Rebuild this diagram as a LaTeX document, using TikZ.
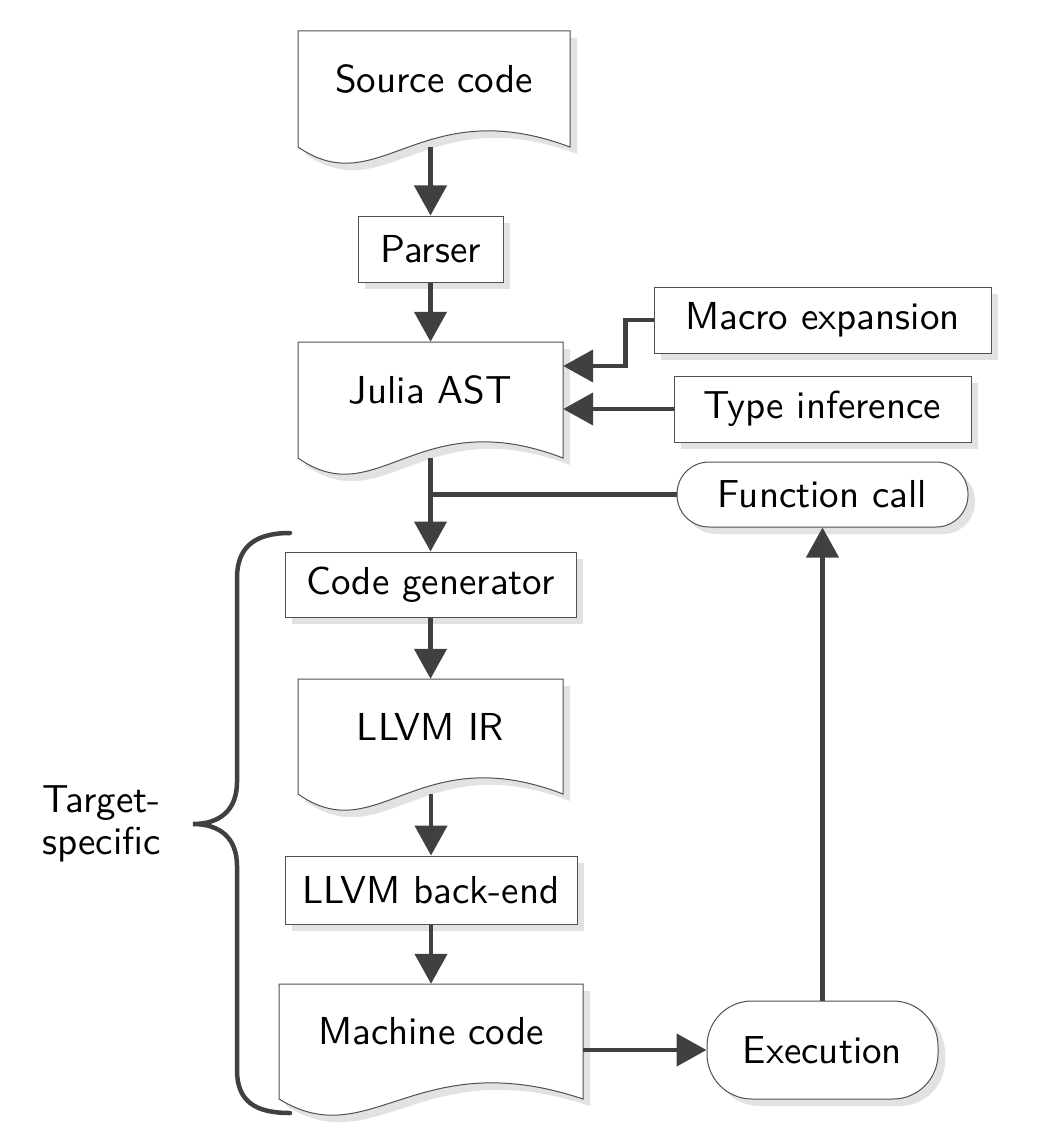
\documentclass[tikz,border=0pt]{standalone}
\usepackage{fontspec}
\newfontfamily\lmsten{lmsans10-regular}[Extension=.otf]
\usetikzlibrary{arrows.meta,shadows,calc}
\definecolor{linegray}{HTML}{404040}
\definecolor{bordergray}{HTML}{505050}
\definecolor{shadowgray}{HTML}{E2E2E2}
\newcommand\docnode[6]{%
  \path[docbox] (#2,#3) -- (#4,#3) -- (#4,#5)
    .. controls ($(#2,#5)!0.45!(#4,#5)+(0,-56)$) and ($(#2,#5)!0.3!(#4,#5)+(0,56)$) .. (#2,#5) -- cycle;
  \node[minimum width={#4-#2}, minimum height={#5-#3}] (#1) at ({(#2+#4)/2},{(#3+#5)/2}) {};
  \node (#1-text) at ($(#1.center)+(0,-10)$) {#6};
}
\begin{document}
\begin{tikzpicture}[x=1pt,y=-1pt,
  every node/.style={font=\lmsten\fontsize{39}{42}\selectfont, inner sep=0pt},
  shad/.style={drop shadow={shadow xshift=7pt, shadow yshift=-7pt, fill=shadowgray, opacity=1}},
  rectbox/.style={draw=bordergray, fill=white, line width=1pt, shad},
  termbox/.style={rectbox, rounded corners=#1},
  docbox/.style={draw=bordergray, fill=white, line width=1pt, shad},
  arr/.style={draw=linegray, line width=4.5pt, -{Triangle[length=30pt,width=32pt]}},
  conn/.style={draw=linegray, line width=4.5pt},
]
\useasboundingbox (0,0) rectangle (1036,1142);

% document shapes
\docnode{src}{298}{31}{570}{147}{Source code}
\docnode{ast}{298}{342}{563}{458}{Julia AST}
\docnode{ir}{298}{679}{563}{794}{LLVM IR}
\docnode{mc}{279}{984}{583}{1099}{Machine code}

% process boxes
\node[rectbox, minimum width=145pt, minimum height=66pt] (parser) at (430.5,249) {Parser};
\node[rectbox, minimum width=337pt, minimum height=66pt] (macro) at (822.5,320) {Macro expansion};
\node[rectbox, minimum width=297pt, minimum height=66pt] (type) at (822.5,409) {Type inference};
\node[termbox=32pt, minimum width=291pt, minimum height=65pt] (fc) at (822.5,494.5) {Function call};
\node[rectbox, minimum width=291pt, minimum height=65pt] (cg) at (430.5,584.5) {Code generator};
\node[rectbox, minimum width=292pt, minimum height=68pt] (be) at (431,890) {LLVM back-end};
\node[termbox=45pt, minimum width=231pt, minimum height=98pt] (exec) at (822.5,1050) {Execution};

% label
\node[anchor=west, align=left] (tgt) at (42,824) {Target-\\specific};

% connectors
\draw[arr] (src.south -| parser.north) -- (parser.north);
\draw[arr] (parser.south) -- (parser.south |- ast.north);
\draw[arr] (macro.west) -- ++(-28,0) |- ([yshift=34pt]ast.east);
\draw[arr] (type.west) -- (ast.east |- type.west);
\draw[arr] (ast.south -| cg.north) -- (cg.north);
\draw[conn] (fc.west) -- (fc.west -| cg.north);
\draw[arr] (cg.south) -- (cg.south |- ir.north);
\draw[arr] (ir.south -| be.north) -- (be.north);
\draw[arr] (be.south) -- (be.south |- mc.north);
\draw[arr] (mc.east |- exec.west) -- (exec.west);
\draw[arr] (exec.north) -- (fc.south);

% brace
\draw[conn, line cap=round]
  (290,533) .. controls (256,533) and (237,546) .. (237,578)
  -- (237,782) .. controls (237,810) and (220,824) .. (193,824)
  .. controls (220,824) and (237,838) .. (237,866)
  -- (237,1070) .. controls (237,1102) and (256,1113) .. (290,1113);
\end{tikzpicture}
\end{document}
